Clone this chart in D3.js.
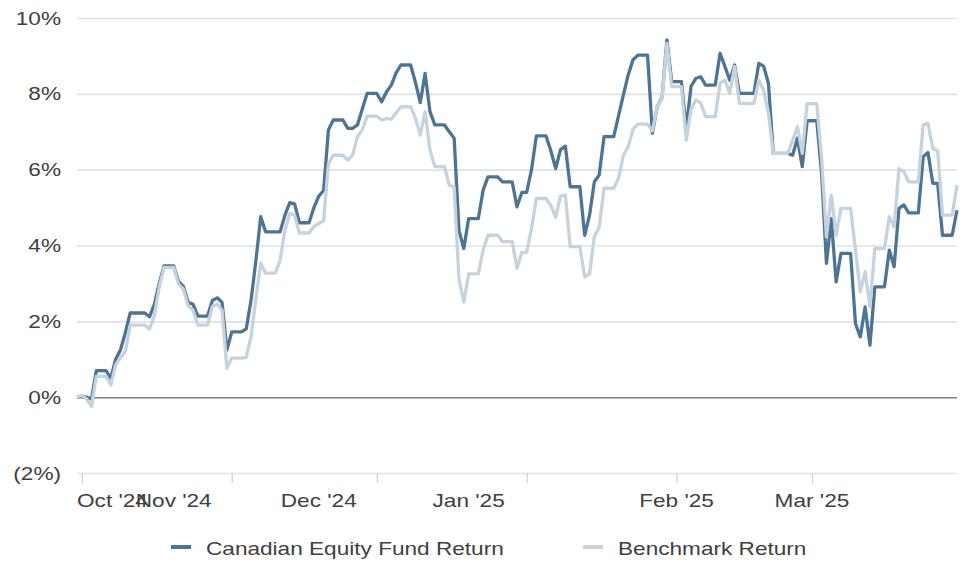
<!DOCTYPE html>
<html>
<head>
<meta charset="utf-8">
<script src="https://cdn.jsdelivr.net/npm/d3@7"></script>
<style>
  html, body { margin: 0; padding: 0; background: #ffffff; }
  svg { display: block; }
  text { font-family: "Liberation Sans", Arial, sans-serif; fill: #404040; }
</style>
</head>
<body>
<svg id="chart" width="967" height="562"></svg>
<script>
// Daily cumulative return (%) from 30 Sep 2024 to 31 Mar 2025; non-trading days carry the prior close.
const startDate = new Date(2024, 8, 30);
const endDate = new Date(2025, 2, 31);

const fundReturn = [
  0.00, 0.03, 0.00, -0.05, 0.70, 0.70, 0.70, 0.50, 1.00, 1.25,
  1.70, 2.22, 2.22, 2.22, 2.22, 2.12, 2.45, 3.00, 3.46, 3.46,
  3.46, 3.05, 2.92, 2.50, 2.45, 2.14, 2.14, 2.14, 2.55, 2.62,
  2.50, 1.24, 1.72, 1.72, 1.72, 1.80, 2.56, 3.60, 4.76, 4.36,
  4.36, 4.36, 4.36, 4.80, 5.13, 5.10, 4.60, 4.60, 4.60, 5.00,
  5.30, 5.45, 7.05, 7.31, 7.31, 7.31, 7.09, 7.09, 7.18, 7.60,
  8.01, 8.01, 8.01, 7.79, 8.05, 8.23, 8.55, 8.76, 8.76, 8.76,
  8.30, 7.77, 8.54, 7.53, 7.18, 7.18, 7.18, 7.00, 6.83, 4.40,
  3.92, 4.71, 4.71, 4.71, 5.46, 5.81, 5.81, 5.81, 5.68, 5.68,
  5.68, 5.02, 5.40, 5.40, 6.00, 6.89, 6.89, 6.89, 6.50, 6.03,
  6.53, 6.62, 5.55, 5.55, 5.55, 4.27, 4.80, 5.68, 5.86, 6.87,
  6.87, 6.87, 7.42, 7.97, 8.50, 8.90, 9.02, 9.02, 9.02, 6.96,
  7.66, 7.90, 9.42, 8.32, 8.32, 8.32, 7.09, 8.20, 8.41, 8.45,
  8.23, 8.23, 8.23, 9.07, 8.72, 8.36, 8.76, 8.01, 8.01, 8.01,
  8.01, 8.80, 8.73, 8.28, 6.43, 6.43, 6.43, 6.43, 6.38, 6.83,
  6.08, 7.29, 7.29, 7.29, 5.90, 3.53, 4.71, 3.04, 3.79, 3.79,
  3.79, 1.94, 1.59, 2.38, 1.37, 2.91, 2.91, 2.91, 3.88, 3.44,
  4.98, 5.07, 4.86, 4.86, 4.86, 6.34, 6.45, 5.64, 5.64, 4.27,
  4.27, 4.27, 4.93
];

const benchmarkReturn = [
  0.00, 0.05, -0.05, -0.24, 0.55, 0.55, 0.55, 0.32, 0.85, 1.05,
  1.20, 1.90, 1.90, 1.90, 1.90, 1.80, 2.15, 2.90, 3.42, 3.42,
  3.42, 2.98, 2.85, 2.40, 2.30, 1.90, 1.90, 1.90, 2.40, 2.45,
  2.30, 0.76, 1.03, 1.03, 1.03, 1.05, 1.60, 2.60, 3.53, 3.27,
  3.27, 3.27, 3.60, 4.40, 4.85, 4.80, 4.33, 4.33, 4.33, 4.50,
  4.58, 4.65, 6.15, 6.38, 6.38, 6.38, 6.25, 6.38, 6.87, 7.05,
  7.41, 7.41, 7.41, 7.31, 7.35, 7.33, 7.50, 7.66, 7.66, 7.66,
  7.36, 6.91, 7.53, 6.52, 6.08, 6.08, 6.08, 5.59, 5.55, 3.10,
  2.51, 3.25, 3.25, 3.25, 3.88, 4.27, 4.27, 4.27, 4.10, 4.10,
  4.10, 3.40, 3.82, 3.82, 4.45, 5.24, 5.24, 5.24, 5.05, 4.75,
  5.30, 5.33, 3.97, 3.97, 3.97, 3.17, 3.25, 4.23, 4.49, 5.51,
  5.51, 5.51, 5.77, 6.38, 6.60, 7.06, 7.20, 7.20, 7.20, 7.02,
  7.66, 7.88, 9.33, 8.19, 8.19, 8.19, 6.78, 7.60, 7.84, 7.76,
  7.40, 7.40, 7.40, 8.28, 8.36, 8.01, 8.72, 7.75, 7.75, 7.75,
  7.75, 8.36, 8.10, 7.49, 6.43, 6.43, 6.43, 6.43, 6.78, 7.13,
  6.43, 7.74, 7.74, 7.74, 6.30, 4.23, 5.33, 4.27, 4.98, 4.98,
  4.98, 3.88, 2.78, 3.31, 2.38, 3.92, 3.92, 3.92, 4.76, 4.49,
  6.03, 5.95, 5.68, 5.68, 5.68, 7.18, 7.22, 6.56, 6.50, 4.80,
  4.80, 4.80, 5.59
];

const yTicks = [-2, 0, 2, 4, 6, 8, 10];
const monthTicks = ["2024-10-01", "2024-11-01", "2024-12-01", "2025-01-01", "2025-02-01", "2025-03-01"];
const monthLabels = ["Oct '24", "Nov '24", "Dec '24", "Jan '25", "Feb '25", "Mar '25"];
const monthLabelAnchors = ["2024-09-30", "2024-10-20", "2024-11-19", "2024-12-20", "2025-02-01", "2025-03-01"];
const seriesNames = ["Canadian Equity Fund Return", "Benchmark Return"];
const seriesColors = ["#4e7493", "#c5d3de"];

const parse = d3.timeParse("%Y-%m-%d");
const days = d3.timeDay.range(startDate, d3.timeDay.offset(endDate, 1));
const fundData = days.map((d, i) => ({ date: d, value: fundReturn[i] }));
const benchData = days.map((d, i) => ({ date: d, value: benchmarkReturn[i] }));

const svg = d3.select("#chart");
const plot = { left: 77, right: 957, top: 18, bottom: 473 };
const textScale = 1.19;

const x = d3.scaleTime().domain([startDate, endDate]).range([plot.left, plot.right]);
const y = d3.scaleLinear().domain([-2, 10]).range([plot.bottom, plot.top]);

const fmt = v => v < 0 ? `(${Math.abs(v)}%)` : `${v}%`;

// horizontal gridlines and y labels
const yAxis = svg.append("g")
  .attr("transform", `translate(${plot.left},0)`)
  .call(d3.axisLeft(y).tickValues(yTicks).tickSize(-(plot.right - plot.left)).tickPadding(16).tickFormat(fmt));
yAxis.select(".domain").remove();
yAxis.selectAll(".tick line")
  .attr("stroke", d => d === 0 ? "#7d7d7d" : "#e2e2e2")
  .attr("stroke-width", d => d === 0 ? 1.5 : 1.6);
yAxis.selectAll(".tick text")
  .attr("font-size", 19)
  .attr("font-family", null)
  .attr("fill", "#404040")
  .attr("x", -16 / textScale)
  .attr("transform", `scale(${textScale},1)`);

// month tick marks under the plot
const xAxis = svg.append("g")
  .attr("transform", `translate(0,${plot.bottom})`)
  .call(d3.axisBottom(x).tickValues(monthTicks.map(parse)).tickSize(10).tickFormat(""));
xAxis.select(".domain").remove();
xAxis.selectAll(".tick line").attr("stroke", "#d0d0d0").attr("stroke-width", 1.2);

// month labels
svg.append("g").selectAll("text")
  .data(monthLabels)
  .join("text")
  .attr("transform", (d, i) => `translate(${x(parse(monthLabelAnchors[i]))},507) scale(${textScale},1)`)
  .attr("text-anchor", (d, i) => i === 0 ? "start" : "middle")
  .attr("font-size", 19)
  .text(d => d);

// return lines
const line = d3.line().x(d => x(d.date)).y(d => y(d.value));
svg.append("path")
  .datum(fundData)
  .attr("fill", "none")
  .attr("stroke", seriesColors[0])
  .attr("stroke-width", 3.3)
  .attr("stroke-linejoin", "round")
  .attr("d", line);
svg.append("path")
  .datum(benchData)
  .attr("fill", "none")
  .attr("stroke", seriesColors[1])
  .attr("stroke-width", 3.3)
  .attr("stroke-linejoin", "round")
  .attr("d", line);

// legend
const legendX = [171, 583];
const legend = svg.append("g").selectAll("g")
  .data(seriesNames)
  .join("g")
  .attr("transform", (d, i) => `translate(${legendX[i]},547)`);
legend.append("line")
  .attr("x1", 0).attr("x2", 20).attr("y1", 0).attr("y2", 0)
  .attr("stroke", (d, i) => seriesColors[i])
  .attr("stroke-width", 4);
legend.append("text")
  .attr("transform", `translate(35,7.5) scale(${textScale},1)`)
  .attr("font-size", 19)
  .text(d => d);
</script>
</body>
</html>
